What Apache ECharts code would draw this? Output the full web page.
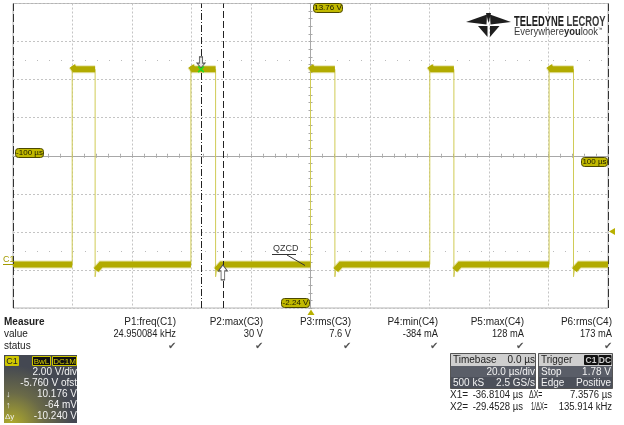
<!DOCTYPE html>
<html><head><meta charset="utf-8">
<script src="https://cdn.jsdelivr.net/npm/echarts@6/dist/echarts.min.js"></script>
<style>html,body{margin:0;padding:0;background:#fff}#c{width:624px;height:425px}</style>
</head><body><div id="c"></div>
<script>
const timeRange = [-100, 100];            // µs  (20 µs/div)
const voltRange = [-2.24, 13.76];         // V   (2 V/div, offset -5.76 V)
const divRange = [-4, 4];                 // graticule divisions (vertical)
const riseTimes = [-80.1, -40.2, 0.0, 40.1, 80.2];   // µs
const fallTimes = [-72.4, -31.9, 8.2, 48.2, 88.4];   // µs
const highPeak = 10.48;      // V, overshoot right after rising edge
const highLevel = 10.3;      // V, pulse plateau
const lowDip = -0.6;         // V, undershoot after falling edge
const lowDipBand = -0.25;    // V
const lowLevel = 0.05;       // V, baseline
const settleTimes = [0.8, 0.3, 2.0];  // µs after edges (peak settle, dip, baseline settle)
const cursorTimes = [-36.8104, -29.4528];  // X1, X2
const triggerLevel = 1.78;
const markerRows = [10.76, 0.76];           // dotted graticule rows (±2.5 div)
const tickLabels = ['13.76 V', '-2.24 V', '-100 µs', '100 µs'];
const measureLabels = ['P1:freq(C1)', 'P2:max(C3)', 'P3:rms(C3)', 'P4:min(C4)', 'P5:max(C4)', 'P6:rms(C4)'];
const measureValues = ['24.950084 kHz', '30 V', '7.6 V', '-384 mA', '128 mA', '173 mA'];
const channelInfo = ['2.00 V/div', '-5.760 V ofst', '10.176 V', '-64 mV', '-10.240 V'];
const timebaseInfo = ['0.0 µs', '20.0 µs/div', '500 kS', '2.5 GS/s'];
const triggerInfo = ['1.78 V', 'Positive'];
const cursorInfo = ['-36.8104 µs', '-29.4528 µs', '7.3576 µs', '135.914 kHz'];

// ---- build trace ----
const thin = [[timeRange[0], lowLevel]];
const band = [[timeRange[0], lowLevel]];
for (let i = 0; i < riseTimes.length; i++) {
  const r = riseTimes[i], f = fallTimes[i];
  thin.push([r, lowLevel], [r, highPeak], [r + settleTimes[0], highLevel], [f, highLevel],
            [f, lowDip], [f + settleTimes[1], lowDipBand], [f + settleTimes[2], lowLevel]);
  band.push([r, lowLevel], [r, '-'], [r, highPeak], [r + settleTimes[0], highLevel], [f, highLevel],
            [f, '-'], [f + settleTimes[1], lowDipBand], [f + settleTimes[2], lowLevel]);
}
thin.push([timeRange[1], lowLevel]);
band.push([timeRange[1], lowLevel]);

const FONT = '"Liberation Sans", Arial, sans-serif';
function T(x, y, s, o) {
  o = o || {};
  const al = o.align || 'left';
  return { type: 'text', z: 100, silent: true, scaleX: o.sx || 1, originX: x, originY: y,
    style: { text: s, x: x, y: y, fill: o.fill || '#222', font: (o.weight || 'normal') + ' ' + (o.size || 10) + 'px ' + FONT,
      align: al, textAlign: al, verticalAlign: 'middle', textVerticalAlign: 'middle', rich: o.rich } };
}
function R(x, y, w, h, fill, stroke, r) {
  return { type: 'rect', z: 90, silent: true, shape: { x: x, y: y, width: w, height: h, r: r || 0 },
    style: { fill: fill, stroke: stroke || null, lineWidth: 1 } };
}
function L(x1, y1, x2, y2, c) {
  return { type: 'line', z: 95, silent: true, shape: { x1: x1, y1: y1, x2: x2, y2: y2 }, style: { stroke: c, lineWidth: 1 } };
}
function P(points, fill) {
  return { type: 'polygon', z: 95, silent: true, shape: { points: points }, style: { fill: fill } };
}
function tag(x, y, w, s) {
  return [R(x + 0.5, y + 0.5, w, 9, '#c1b900', '#4c4800', 3), T(x + w / 2 + 0.5, y + 5, s, { align: 'center', size: 8, fill: '#1a1a00' })];
}

const g = [];
// tags
g.push(...tag(313, 3, 29, tickLabels[0]));
g.push(...tag(281, 298, 28, tickLabels[1]));
g.push(...tag(15, 148, 28, tickLabels[2]));
g.push(...tag(581, 157, 26, tickLabels[3]));
// trigger markers
g.push(P([[609, 231.5], [615, 228], [615, 235]], '#b8b000'));
g.push(P([[311, 309.5], [307.5, 315], [314.5, 315]], '#b8b000'));
// C1 label
g.push(T(3, 259.5, 'C1', { size: 9, fill: '#a39b00' }));
g.push(L(3, 264.5, 13, 264.5, '#a39b00'));
// QZCD
g.push(T(273, 249, 'QZCD', { size: 9, fill: '#333' }));
g.push(L(272, 254.5, 296, 254.5, '#333'));
g.push(L(287, 255, 305, 265.5, '#333'));
// logo
g.push(P([[466, 22], [487, 14.5], [486.5, 24.5]], '#1e1e1e'));
g.push(P([[511, 22], [490, 14.5], [490.5, 24.5]], '#1e1e1e'));
g.push(P([[478, 26], [487.5, 26], [487.5, 37]], '#1e1e1e'));
g.push(P([[490, 26], [499.5, 26], [490, 37]], '#1e1e1e'));
g.push(P([[486, 13], [491, 13], [488.5, 23]], '#1e1e1e'));
g.push(T(514, 22, '{b|TELEDYNE} {n|LECROY}', { size: 13, sx: 0.67, weight: 'bold', rich: {
  b: { font: 'bold 14px ' + FONT, fill: '#1e1e1e' }, n: { font: 'bold 14px ' + FONT, fill: '#3a3a3a' } } }));
g.push(T(514, 32.5, '{n|Everywhere}{b|you}{n|look}{s|™}', { size: 10, sx: 0.9, rich: {
  n: { font: 'normal 10.5px ' + FONT, fill: '#3a3a3a' }, b: { font: 'bold 10.5px ' + FONT, fill: '#2a2a2a' },
  s: { font: 'normal 5px ' + FONT, fill: '#3a3a3a', verticalAlign: 'top' } } }));

// measure table
g.push(T(4, 322.5, 'Measure', { weight: 'bold', size: 10 }));
g.push(T(4, 334.5, 'value', { size: 10 }));
g.push(T(4, 346.5, 'status', { size: 10 }));
const colX = [176, 263, 351, 438, 524, 612];
for (let i = 0; i < measureLabels.length; i++) {
  g.push(T(colX[i], 322.5, measureLabels[i], { align: 'right' }));
  g.push(T(colX[i], 334.5, measureValues[i], { align: 'right', sx: 0.93 }));
  g.push(T(colX[i], 346.5, '✔', { align: 'right', fill: '#555', size: 10 }));
}
// C1 channel box
g.push({ type: 'rect', z: 88, silent: true, shape: { x: 4, y: 355, width: 73, height: 68 },
  style: { fill: { type: 'radial', x: 0.1, y: 1.05, r: 0.9, colorStops: [
    { offset: 0, color: '#b5b02a' }, { offset: 0.55, color: '#6a6a48' }, { offset: 1, color: '#444852' }] } } });
g.push(R(5, 356, 14, 10, '#cfc700', null, 1));
g.push(T(12, 361.5, 'C1', { align: 'center', size: 9, fill: '#222' }));
g.push(R(32.5, 356.5, 18, 9, '#111', '#cfc700'));
g.push(T(41.5, 361.5, 'BwL', { align: 'center', size: 8, fill: '#d8d000' }));
g.push(R(52.5, 356.5, 24, 9, '#111', '#cfc700'));
g.push(T(64.5, 361.5, 'DC1M', { align: 'center', size: 8, fill: '#d8d000' }));
const chY = [372.5, 383, 394, 405.5, 416.5];
for (let i = 0; i < channelInfo.length; i++) g.push(T(77, chY[i], channelInfo[i], { align: 'right', fill: '#f2f2f2', size: 10 }));
g.push(T(6, 395, '↓', { size: 9, fill: '#eee' }));
g.push(T(6, 406, '↑', { size: 9, fill: '#eee' }));
g.push(T(5, 417, 'Δy', { size: 8, fill: '#eee' }));
// timebase box
g.push(R(450.5, 353.5, 85, 35, '#5a5e68', '#555'));
g.push(R(451, 354, 84, 12, '#cfcfcf'));
g.push(R(451, 377, 84, 11, '#4c505a'));
g.push(T(453, 360.5, 'Timebase', { size: 10, fill: '#222' }));
g.push(T(535, 360.5, timebaseInfo[0], { align: 'right', fill: '#222' }));
g.push(T(535, 372, timebaseInfo[1], { align: 'right', fill: '#f2f2f2' }));
g.push(T(453, 383, timebaseInfo[2], { fill: '#f2f2f2' }));
g.push(T(535, 383, timebaseInfo[3], { align: 'right', fill: '#f2f2f2' }));
// trigger box
g.push(R(538.5, 353.5, 74, 35, '#5a5e68', '#555'));
g.push(R(539, 354, 73, 12, '#cfcfcf'));
g.push(R(539, 377, 73, 11, '#4c505a'));
g.push(T(541, 360.5, 'Trigger', { fill: '#222' }));
g.push(R(584, 355, 14, 10, '#111', null, 1));
g.push(T(591, 360.5, 'C1', { align: 'center', size: 8.5, fill: '#cfcfcf', weight: 'bold' }));
g.push(R(598.5, 355, 13, 10, '#111', null, 1));
g.push(T(605, 360.5, 'DC', { align: 'center', size: 8.5, fill: '#cfcfcf', weight: 'bold' }));
g.push(T(541, 372, 'Stop', { fill: '#f2f2f2' }));
g.push(T(611, 372, triggerInfo[0], { align: 'right', fill: '#f2f2f2' }));
g.push(T(541, 383, 'Edge', { fill: '#f2f2f2' }));
g.push(T(611, 383, triggerInfo[1], { align: 'right', fill: '#f2f2f2' }));
// cursor readouts
g.push(T(450, 395, 'X1=', {}));
g.push(T(523, 395, cursorInfo[0], { align: 'right', sx: 0.95 }));
g.push(T(450, 407, 'X2=', {}));
g.push(T(523, 407, cursorInfo[1], { align: 'right', sx: 0.95 }));
g.push(T(529, 395, 'ΔX=', { sx: 0.7 }));
g.push(T(612, 395, cursorInfo[2], { align: 'right', sx: 0.95 }));
g.push(T(531, 407, '1/ΔX=', { sx: 0.6 }));
g.push(T(612, 407, cursorInfo[3], { align: 'right', sx: 0.95 }));

const gridLine = { show: true, lineStyle: { color: '#c4c4c4', width: 1, type: [2, 2] } };
const centerAxis = (idx) => ({
  show: true, onZero: true, onZeroAxisIndex: idx, lineStyle: { color: '#a8a8a8', width: 1 } });
const tk = { show: true, length: 2, lineStyle: { color: '#a8a8a8' } };
const mtk = { show: true, splitNumber: 5, length: 2, lineStyle: { color: '#a8a8a8' } };

const option = {
  animation: false,
  backgroundColor: '#fff',
  grid: { left: 13, right: 16, top: 3.5, bottom: 117, show: true, borderColor: '#b4b4b4', borderWidth: 1 },
  xAxis: [
    { type: 'value', min: timeRange[0], max: timeRange[1], interval: 20, position: 'bottom',
      splitLine: gridLine, axisLine: centerAxis(1), axisLabel: { show: false }, axisTick: tk, minorTick: mtk },
    { type: 'value', min: timeRange[0], max: timeRange[1], interval: 20, position: 'top',
      splitLine: { show: false }, axisLine: centerAxis(1), axisLabel: { show: false }, axisTick: tk, minorTick: mtk }
  ],
  yAxis: [
    { type: 'value', min: voltRange[0], max: voltRange[1], show: false, splitLine: { show: false } },
    { type: 'value', min: divRange[0], max: divRange[1], interval: 1, position: 'left',
      splitLine: gridLine, axisLine: centerAxis(0), axisLabel: { show: false }, axisTick: tk, minorTick: mtk },
    { type: 'value', min: divRange[0], max: divRange[1], interval: 1, position: 'right',
      splitLine: { show: false }, axisLine: centerAxis(0), axisLabel: { show: false }, axisTick: tk, minorTick: mtk }
  ],
  series: [
    { type: 'line', name: 'halo', data: band, xAxisIndex: 0, yAxisIndex: 0, symbol: 'none', silent: true,
      lineStyle: { width: 8, color: 'rgba(178,172,0,0.3)', cap: 'butt', join: 'miter' }, z: 3 },
    { type: 'line', name: 'band', data: band, xAxisIndex: 0, yAxisIndex: 0, symbol: 'none', silent: true,
      lineStyle: { width: 6, color: '#b2ab00', cap: 'butt', join: 'miter' }, z: 4 },
    { type: 'line', name: 'C1', data: thin, xAxisIndex: 0, yAxisIndex: 0, symbol: 'none', silent: true,
      lineStyle: { width: 1, color: '#d0cb55' }, z: 2,
      markLine: { silent: true, symbol: 'none', label: { show: false }, animation: false,
        data: [
          { xAxis: cursorTimes[0], lineStyle: { color: '#222', width: 1, type: [7, 2, 1, 2] } },
          { xAxis: cursorTimes[1], lineStyle: { color: '#222', width: 1, type: [7, 3] } },
          { xAxis: timeRange[0], lineStyle: { color: '#333', width: 1, type: [8, 3] } },
          { xAxis: timeRange[1], lineStyle: { color: '#333', width: 1, type: [8, 3] } },
          { yAxis: markerRows[0], lineStyle: { color: '#bbb', width: 1, type: [1, 11] } },
          { yAxis: markerRows[1], lineStyle: { color: '#bbb', width: 1, type: [1, 11] } }
        ] },
      markPoint: { silent: true, animation: false, label: { show: false },
        data: [
          { coord: [cursorTimes[0], highLevel], symbol: 'path://M3,0 L7,0 L7,8 L10,8 L5,14 L0,8 L3,8 Z',
            symbolSize: [8, 11], symbolOffset: [0, -7], itemStyle: { color: '#e6e6e6', borderColor: '#555', borderWidth: 1 } },
          { coord: [cursorTimes[0], highLevel], symbol: 'path://M4,0 L6,0 L6,4 L10,4 L10,6 L6,6 L6,10 L4,10 L4,6 L0,6 L0,4 L4,4 Z',
            symbolSize: 8, symbolRotate: 45, itemStyle: { color: '#22dd22' } },
          { coord: [cursorTimes[1], lowLevel], symbol: 'path://M5,0 L10,6 L7,6 L7,15 L3,15 L3,6 L0,6 Z',
            symbolSize: [9, 15], symbolOffset: [0, 8], itemStyle: { color: '#fff', borderColor: '#555', borderWidth: 1 } }
        ] } }
  ],
  graphic: g
};
const chart = echarts.init(document.getElementById('c'), null, { renderer: 'canvas' });
chart.setOption(option);
</script>
</body></html>
